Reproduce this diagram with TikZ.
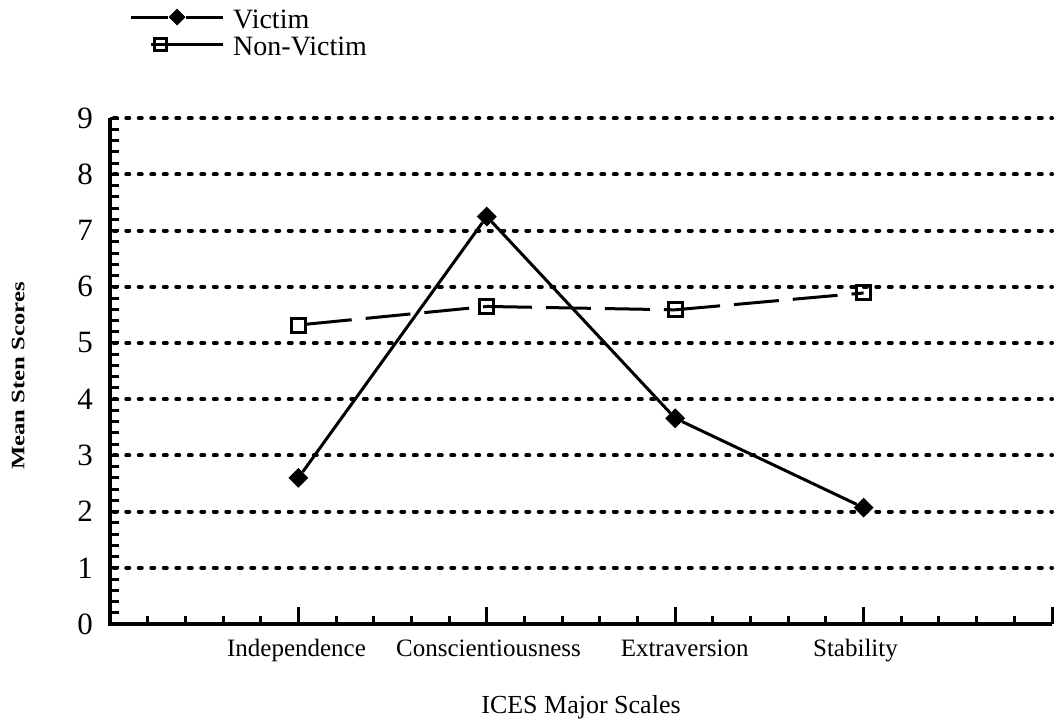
\documentclass[tikz,border=0pt]{standalone}
\usepackage{fontspec}
\setmainfont{Liberation Serif}
\usetikzlibrary{shapes.geometric}

\tikzset{
  grid line/.style={line width=4pt, line cap=round, dash pattern=on 3pt off 9.5pt},
  axis line/.style={line width=4pt},
  tick line/.style={line width=3pt},
  victim mark/.style={diamond, fill=black, inner sep=0pt, minimum size=20pt},
  nonvictim mark/.style={rectangle, draw=black, line width=3pt, inner sep=0pt, minimum size=14pt},
  victim line/.style={line width=3pt},
  nonvictim line/.style={line width=3pt, dash pattern=on 45pt off 14pt},
  num label/.style={font=\fontsize{31}{31}\selectfont, inner sep=0pt, anchor=east},
  cat label/.style={font=\fontsize{25}{25}\selectfont, inner sep=0pt, anchor=base},
  key label/.style={font=\fontsize{28}{28}\selectfont, inner sep=0pt, anchor=base west},
}

\begin{document}
\begin{tikzpicture}[x=188.4pt, y=56.2pt]
  \fill[white] (-0.5839,-1.726) rectangle (5.0265,11.103);

  % Grid
  \foreach \y in {1,...,9}
    \draw[grid line] (0.02,\y) -- (5,\y);

  % Ticks
  \foreach \i in {1,...,45}
    \draw[tick line] (0,\i*0.2) -- ++(9pt,0);
  \foreach \i in {1,...,25}
    \draw[tick line] (\i*0.2,0) -- ++(0,8pt);
  \foreach \i in {1,...,5}
    \draw[tick line] (\i,0) -- ++(0,17pt);

  % Axes
  \draw[axis line] (0,9) -- (0,0) -- (5,0);

  % Axis labels
  \foreach \y in {0,...,9}
    \node[num label] (n\y) at ([xshift=-17pt]0,\y) {\y};
  \node[cat label] (c1) at (0.99,-0.587) {Independence};
  \node[cat label] (c2) at (2.009,-0.587) {Conscientiousness};
  \node[cat label] (c3) at (3.05,-0.587) {Extraversion};
  \node[cat label] (c4) at (3.957,-0.587) {Stability};
  \node[font=\fontsize{26}{26}\selectfont, inner sep=0pt, anchor=base] (xtitle) at (2.5,-1.584) {ICES Major Scales};
  \node[rotate=90, font=\fontsize{19}{19}\selectfont\bfseries, inner sep=0pt] (ytitle) at (-0.488,4.41)
    {\scalebox{1.3}[1]{Mean Sten Scores}};

  % Non-Victim
  \node[nonvictim mark] (nv1) at (1,5.32) {};
  \node[nonvictim mark] (nv2) at (2,5.65) {};
  \node[nonvictim mark] (nv3) at (3,5.59) {};
  \node[nonvictim mark] (nv4) at (4,5.89) {};
  \draw[nonvictim line] (nv1) -- (nv2.center);
  \draw[nonvictim line] (nv2.center) -- (nv3.center);
  \draw[nonvictim line] (nv3.center) -- (nv4.center);

  % Victim
  \node[victim mark] (v1) at (1,2.6) {};
  \node[victim mark] (v2) at (2,7.25) {};
  \node[victim mark] (v3) at (3,3.66) {};
  \node[victim mark] (v4) at (4,2.07) {};
  \draw[victim line] (v1) -- (v2) -- (v3) -- (v4);

  % Legend
  \coordinate (kv0) at (0.111,10.80);
  \coordinate (kv1) at (0.6,10.80);
  \node[victim mark, minimum size=17pt] (kvm) at (0.356,10.80) {};
  \draw[victim line] (kv0) -- (kvm) -- (kv1);
  \node[key label] (kvt) at (0.653,10.59) {Victim};

  \coordinate (kn0) at (0.22,10.32);
  \coordinate (kn1) at (0.6,10.32);
  \node[nonvictim mark, minimum size=12pt] (knm) at (0.27,10.32) {};
  \draw[victim line] (kn0) -- (kn1);
  \node[key label] (knt) at (0.653,10.11) {Non-Victim};
\end{tikzpicture}
\end{document}
